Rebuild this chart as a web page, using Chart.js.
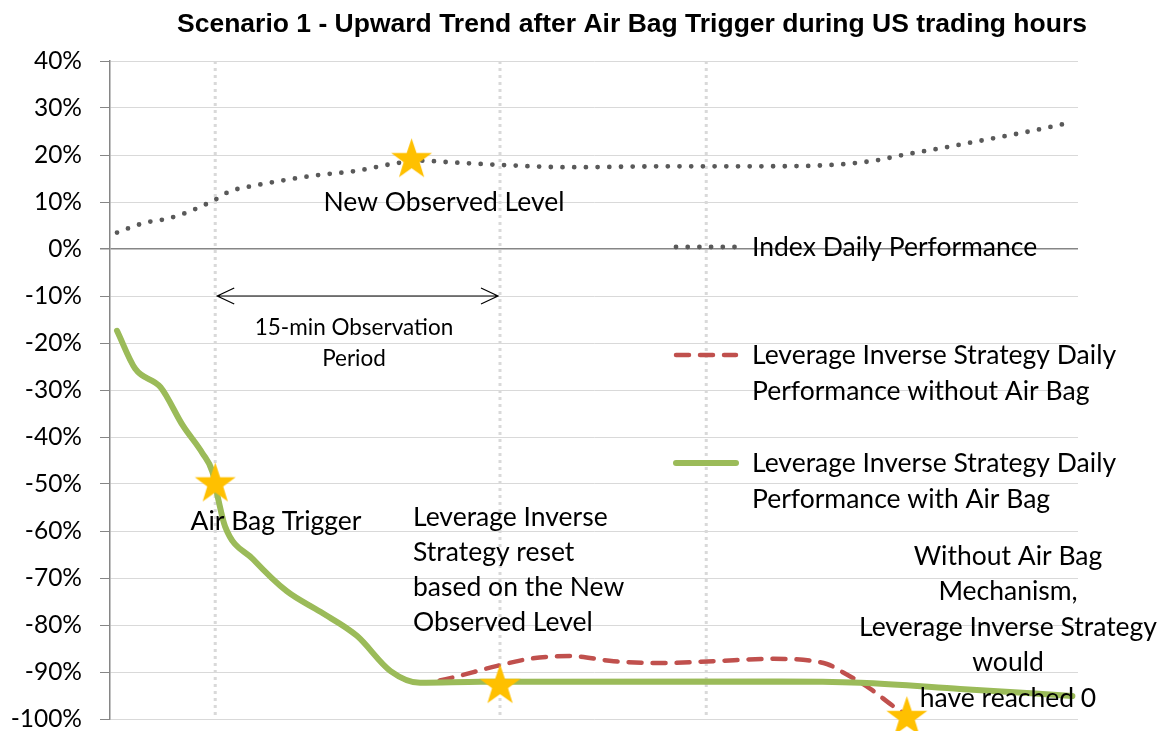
<!DOCTYPE html>
<html>
<head>
<meta charset="utf-8">
<script src="https://cdn.jsdelivr.net/npm/chart.js@4.4.1/dist/chart.umd.min.js"></script>
<style>
  html, body { margin: 0; padding: 0; background: #fff; }
  #wrap { width: 1168px; height: 731px; }
  canvas { display: block; }
</style>
</head>
<body>
<div id="wrap"><canvas id="chart" width="1168" height="731"></canvas></div>
<script>
// x values are time steps (one per category slot), y values are percent
const indexX = [0, 2, 3.5, 5, 7, 8, 10, 14, 17, 20, 21.5, 24, 28, 32, 40, 46, 51, 54, 56, 59, 62, 65, 67.5];
const indexY = [3.5, 5.6, 6.4, 7.8, 10.5, 12.2, 13.6, 15.6, 16.6, 18.3, 18.8, 18.4, 17.8, 17.4, 17.6, 17.6, 17.9, 18.8, 20.0, 21.6, 23.3, 25.0, 26.6];

const withAirBagX = [0, 1.3, 3.1, 4.7, 6.1, 6.8, 7.2, 7.7, 9.7, 12.1, 14.5, 17.1, 19.5, 21.6, 25.9, 47.3, 53, 60.1, 68.1];
const withAirBagY = [-17.4, -25.5, -29.4, -37.6, -43.5, -47.4, -53, -59, -66, -72.8, -77.2, -82.3, -89.8, -92.3, -92.1, -92.0, -92.3, -93.6, -95.1];

const noAirBagX = [0, 1.3, 3.1, 4.7, 6.1, 6.8, 7.2, 7.7, 9.7, 12.1, 14.5, 17.1, 19.5, 21.6, 22.8, 27.1, 29.4, 32.3, 35.4, 38.9, 42.5, 46.8, 50.6, 51.7, 53.7, 55.3, 56.2];
const noAirBagY = [-17.4, -25.5, -29.4, -37.6, -43.5, -47.4, -53, -59, -66, -72.8, -77.2, -82.3, -89.8, -92.3, -91.9, -88.7, -87.2, -86.6, -87.7, -88.1, -87.7, -87.2, -88.3, -90, -93.6, -97.2, -99];

// star markers: trigger, new observed level, reset, would-have-reached-0
const starX = [7, 21, 27.3, 56.3];
const starY = [-50, 19, -92.9, -99.7];

// dotted vertical guides: trigger, end of observation, later
const guideX = [7, 27.3, 42];

const yTicks = { min: -100, max: 40, step: 10 };

const seriesNames = [
    'Index Daily Performance',
    'Leverage Inverse Strategy Daily Performance without Air Bag',
    'Leverage Inverse Strategy Daily Performance with Air Bag'
];

const FONT = 'Lato';

const pts = (xs, ys) => xs.map((x, i) => ({ x: x, y: ys[i] }));

const makeStar = (outer, inner, color) => {
    const size = Math.ceil(outer * 2 + 2);
    const c = document.createElement('canvas');
    c.width = size;
    c.height = size;
    const g = c.getContext('2d');
    g.translate(size / 2, size / 2);
    g.beginPath();
    for (let i = 0; i < 10; i++) {
        const r = i % 2 ? inner : outer;
        const a = -Math.PI / 2 + i * Math.PI / 5;
        g.lineTo(r * Math.cos(a), r * Math.sin(a));
    }
    g.closePath();
    g.fillStyle = color;
    g.fill();
    return c;
};

const starImg = makeStar(21.5, 8.4, '#FFC000');

const guideSets = guideX.map(gx => ({
    data: [{ x: gx, y: yTicks.max }, { x: gx, y: yTicks.min }],
    borderColor: '#d9d9d9',
    borderWidth: 3,
    borderDash: [3, 4],
    pointRadius: 0,
    order: 10
}));

const datasets = [
    {
        label: 'stars',
        data: pts(starX, starY),
        showLine: false,
        pointStyle: starImg,
        pointRadius: 21,
        clip: false,
        order: 0
    },
    {
        label: seriesNames[2],
        data: pts(withAirBagX, withAirBagY),
        borderColor: '#9BBB59',
        borderWidth: 6,
        borderCapStyle: 'round',
        borderJoinStyle: 'round',
        cubicInterpolationMode: 'monotone',
        pointRadius: 0,
        order: 1
    },
    {
        label: seriesNames[1],
        data: pts(noAirBagX, noAirBagY),
        borderColor: '#C0504D',
        borderWidth: 4.5,
        borderDash: [13, 11],
        borderCapStyle: 'round',
        cubicInterpolationMode: 'monotone',
        pointRadius: 0,
        clip: false,
        order: 2
    },
    {
        label: seriesNames[0],
        data: pts(indexX, indexY),
        borderColor: '#595959',
        borderWidth: 4.8,
        borderDash: [0, 11.7],
        borderCapStyle: 'round',
        cubicInterpolationMode: 'monotone',
        pointRadius: 0,
        order: 3
    }
].concat(guideSets);

const textLines = (ctx, lines, x, y, lh, align) => {
    ctx.textAlign = align;
    lines.forEach((t, i) => ctx.fillText(t, x, y + i * lh));
};

const overlay = {
    id: 'overlay',
    afterDatasetsDraw(chart) {
        const { ctx, scales: { x, y } } = chart;
        ctx.save();
        ctx.fillStyle = '#000';
        ctx.textBaseline = 'middle';

        // title
        ctx.font = 'bold 26.5px "Liberation Sans", Arial, sans-serif';
        ctx.textAlign = 'center';
        ctx.fillText('Scenario 1 - Upward Trend after Air Bag Trigger during US trading hours', 632, 25);

        // observation period arrow
        const ay = y.getPixelForValue(-10);
        const ax0 = x.getPixelForValue(guideX[0]) + 2;
        const ax1 = x.getPixelForValue(guideX[1]) - 2;
        ctx.strokeStyle = '#000';
        ctx.lineWidth = 1.2;
        ctx.beginPath();
        ctx.moveTo(ax0, ay);
        ctx.lineTo(ax1, ay);
        ctx.moveTo(ax0 + 17, ay - 8);
        ctx.lineTo(ax0, ay);
        ctx.lineTo(ax0 + 17, ay + 8);
        ctx.moveTo(ax1 - 17, ay - 8);
        ctx.lineTo(ax1, ay);
        ctx.lineTo(ax1 - 17, ay + 8);
        ctx.stroke();

        ctx.font = '22.5px ' + FONT;
        textLines(ctx, ['15-min Observation', 'Period'], 354, 328, 31, 'center');

        ctx.font = '26.5px ' + FONT;
        textLines(ctx, ['New Observed Level'], 444, 202, 35, 'center');
        textLines(ctx, ['Air Bag Trigger'], 276, 521, 35, 'center');
        textLines(ctx, ['Leverage Inverse', 'Strategy reset', 'based on the New', 'Observed Level'], 413, 517, 35.3, 'left');
        textLines(ctx, ['Without Air Bag', 'Mechanism,', 'Leverage Inverse Strategy', 'would', 'have reached 0'], 1008, 556, 35.5, 'center');

        // legend, drawn from the series styles
        const legendRows = [
            { ds: chart.data.datasets[3], y: 247, lines: ['Index Daily Performance'] },
            { ds: chart.data.datasets[2], y: 355, lines: ['Leverage Inverse Strategy Daily', 'Performance without Air Bag'] },
            { ds: chart.data.datasets[1], y: 463, lines: ['Leverage Inverse Strategy Daily', 'Performance with Air Bag'] }
        ];
        legendRows.forEach(row => {
            ctx.save();
            ctx.strokeStyle = row.ds.borderColor;
            ctx.lineWidth = row.ds.borderWidth;
            ctx.lineCap = row.ds.borderCapStyle || 'butt';
            ctx.setLineDash(row.ds.borderDash || []);
            ctx.beginPath();
            ctx.moveTo(676, row.y);
            ctx.lineTo(736, row.y);
            ctx.stroke();
            ctx.restore();
            ctx.font = '26.5px ' + FONT;
            textLines(ctx, row.lines, 752, row.y, 36, 'left');
        });
        ctx.restore();
    }
};

new Chart(document.getElementById('chart'), {
    type: 'line',
    data: { datasets },
    options: {
        responsive: false,
        animation: false,
        layout: { autoPadding: false, padding: { top: 61, right: 90, bottom: 12, left: 0 } },
        plugins: {
            legend: { display: false },
            tooltip: { enabled: false },
            title: { display: false }
        },
        scales: {
            x: {
                type: 'linear',
                min: -0.5,
                max: 68.5,
                display: false
            },
            y: {
                min: yTicks.min,
                max: yTicks.max,
                afterFit: s => {
                    s.width = 110;
                    s.paddingTop = 0;
                    s.paddingBottom = 0;
                },
                ticks: {
                    stepSize: yTicks.step,
                    callback: v => v + '%',
                    color: '#000',
                    padding: 18,
                    font: { family: FONT, size: 24.5, lineHeight: 1 }
                },
                grid: {
                    color: c => (c.tick && c.tick.value === 0 ? '#868686' : '#d9d9d9'),
                    lineWidth: c => (c.tick && c.tick.value === 0 ? 1.5 : 1),
                    tickLength: 10,
                    tickColor: '#868686'
                },
                border: { color: '#868686', width: 1.5 }
            }
        }
    },
    plugins: [overlay]
});
</script>
</body>
</html>
